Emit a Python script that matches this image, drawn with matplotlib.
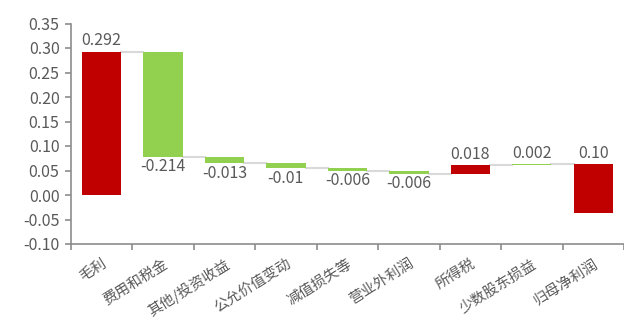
import matplotlib
matplotlib.use("Agg")
import matplotlib.pyplot as plt

plt.rcParams['font.family'] = ['Noto Sans CJK SC', 'DejaVu Sans']

# Profit bridge data
categories = ["毛利", "费用和税金", "其他/投资收益", "公允价值变动", "减值损失等",
              "营业外利润", "所得税", "少数股东损益", "归母净利润"]
steps = [0.292, -0.214, -0.013, -0.01, -0.006, -0.006, 0.018, 0.002, -0.10]
value_labels = ["0.292", "-0.214", "-0.013", "-0.01", "-0.006", "-0.006",
                "0.018", "0.002", "0.10"]
bar_colors = ["#C00000", "#92D050", "#92D050", "#92D050", "#92D050",
              "#92D050", "#C00000", "#92D050", "#C00000"]
label_above = [True, False, False, False, False, False, True, True, True]

text_gray = "#595959"
axis_gray = "#8c8c8c"
width = 0.64

fig = plt.figure(figsize=(6.24, 3.21), dpi=100)
ax = fig.add_axes([70.7 / 624, (321 - 244) / 321, (624 - 70.7) / 624, (244 - 23.5) / 321])

# floating bars: each one starts at the running total
level = 0.0
ends = []
for i, step in enumerate(steps):
    ax.bar(i, step, bottom=level, width=width, color=bar_colors[i], zorder=3)
    top = max(level, level + step)
    bottom = min(level, level + step)
    if label_above[i]:
        ax.text(i, top + 0.005, value_labels[i], ha="center", va="bottom",
                fontsize=11.5, color=text_gray)
    else:
        ax.text(i, bottom - 0.003, value_labels[i], ha="center", va="top",
                fontsize=11.5, color=text_gray)
    level += step
    ends.append(level)

# connector lines between neighbouring bars
for i in range(len(steps) - 1):
    ax.plot([i + width / 2, i + 1 - width / 2], [ends[i], ends[i]],
            color="#d9d9d9", lw=1.5, zorder=2)

ax.set_xlim(-0.5, len(categories) - 0.5)
ax.set_ylim(-0.10, 0.35)
ax.set_yticks([-0.10 + 0.05 * k for k in range(10)])
ax.set_yticklabels([f"{-0.10 + 0.05 * k:.2f}" for k in range(10)])

ax.set_xticks([i - 0.5 for i in range(len(categories) + 1)], minor=False)
ax.set_xticklabels([])
ax.set_xticks(range(len(categories)), minor=True)
ax.set_xticklabels(categories, minor=True, rotation=32, ha="right",
                   rotation_mode="anchor", fontsize=10.5, color=text_gray)
ax.tick_params(axis="x", which="minor", length=0, pad=9)
ax.tick_params(axis="x", which="major", length=4.5, color=axis_gray, width=1.2)
ax.tick_params(axis="y", length=4.5, color=axis_gray, width=1.2,
               labelsize=11.5, labelcolor=text_gray, pad=3.5)

for side in ["top", "right"]:
    ax.spines[side].set_visible(False)
for side in ["left", "bottom"]:
    ax.spines[side].set_color(axis_gray)
    ax.spines[side].set_linewidth(1.2)

fig.savefig("out.png", dpi=100)
